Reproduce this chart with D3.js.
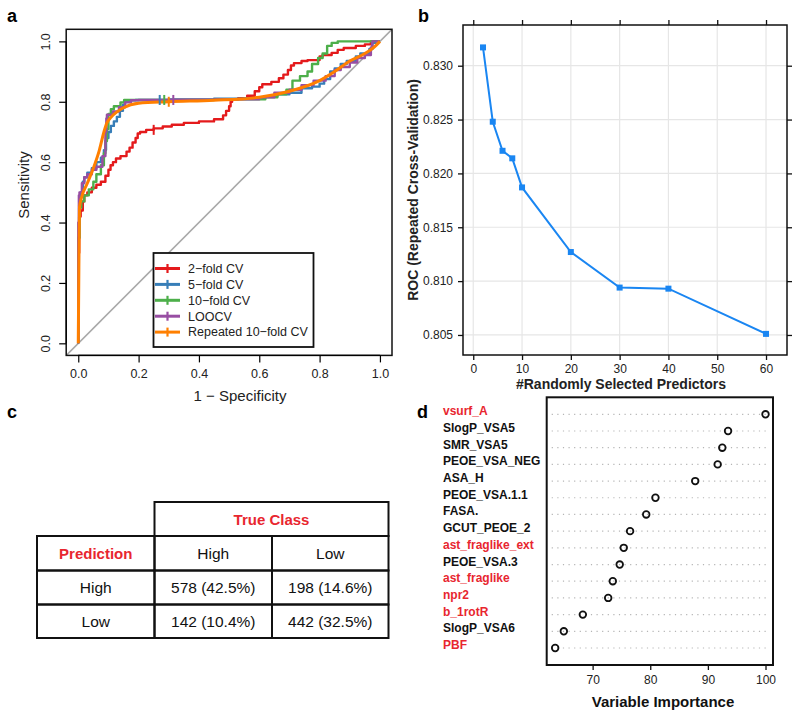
<!DOCTYPE html>
<html>
<head>
<meta charset="utf-8">
<script src="https://cdnjs.cloudflare.com/ajax/libs/d3/7.8.5/d3.min.js"></script>
<style>
  html, body { margin: 0; padding: 0; background: #fff; }
  svg { display: block; font-family: "Liberation Sans", Arial, Helvetica, sans-serif; }
</style>
</head>
<body>
<svg id="chart" width="800" height="718"></svg>
<script>
// ---------------- DATA ----------------
// Panel a: ROC curves (fpr = 1 - specificity, tpr = sensitivity)
const rocNames = ["2\u2212fold CV", "5\u2212fold CV", "10\u2212fold CV", "LOOCV", "Repeated 10\u2212fold CV"];
const rocColors = ["#e41a1c", "#377eb8", "#4daf4a", "#984ea3", "#ff7f00"];
const roc2fold = [[0,0],[0.003,0.30],[0.008,0.42],[0.015,0.44],[0.02,0.47],[0.03,0.49],[0.045,0.50],[0.06,0.515],[0.075,0.525],[0.09,0.535],[0.10,0.555],[0.107,0.575],[0.115,0.59],[0.125,0.60],[0.14,0.612],[0.16,0.62],[0.17,0.635],[0.18,0.648],[0.19,0.665],[0.197,0.68],[0.205,0.695],[0.225,0.70],[0.25,0.707],[0.28,0.712],[0.31,0.718],[0.35,0.724],[0.40,0.73],[0.45,0.735],[0.48,0.742],[0.49,0.755],[0.5,0.77],[0.505,0.785],[0.51,0.80],[0.53,0.808],[0.56,0.812],[0.585,0.82],[0.60,0.835],[0.61,0.848],[0.64,0.858],[0.665,0.866],[0.68,0.878],[0.695,0.89],[0.705,0.905],[0.715,0.92],[0.74,0.928],[0.76,0.935],[0.80,0.938],[0.81,0.95],[0.84,0.955],[0.86,0.962],[0.88,0.972],[0.92,0.978],[0.95,0.985],[0.97,0.99],[1,1]];
const roc5fold = [[0,0],[0.003,0.35],[0.008,0.46],[0.015,0.50],[0.02,0.535],[0.03,0.55],[0.045,0.565],[0.06,0.58],[0.075,0.60],[0.085,0.615],[0.092,0.64],[0.10,0.68],[0.108,0.70],[0.118,0.72],[0.128,0.735],[0.138,0.75],[0.148,0.77],[0.155,0.79],[0.17,0.80],[0.19,0.805],[0.3,0.806],[0.45,0.808],[0.55,0.81],[0.62,0.812],[0.66,0.818],[0.70,0.825],[0.74,0.83],[0.775,0.845],[0.80,0.85],[0.815,0.86],[0.835,0.875],[0.85,0.90],[0.87,0.91],[0.89,0.925],[0.92,0.935],[0.935,0.95],[0.965,0.96],[0.975,0.975],[0.985,0.995],[1,1]];
const roc10fold = [[0,0],[0.004,0.35],[0.01,0.45],[0.02,0.47],[0.035,0.49],[0.05,0.51],[0.06,0.535],[0.075,0.56],[0.085,0.59],[0.09,0.63],[0.095,0.67],[0.10,0.71],[0.108,0.76],[0.118,0.775],[0.14,0.785],[0.152,0.798],[0.165,0.806],[0.3,0.806],[0.45,0.806],[0.55,0.808],[0.62,0.808],[0.66,0.815],[0.69,0.825],[0.71,0.84],[0.735,0.87],[0.76,0.885],[0.775,0.90],[0.795,0.925],[0.81,0.945],[0.825,0.96],[0.84,0.985],[0.86,0.995],[0.885,1.0],[1,1]];
const rocLOOCV = [[0,0],[0.002,0.40],[0.004,0.49],[0.012,0.50],[0.02,0.53],[0.03,0.55],[0.045,0.56],[0.06,0.575],[0.08,0.585],[0.09,0.62],[0.093,0.70],[0.095,0.745],[0.115,0.757],[0.135,0.768],[0.155,0.782],[0.175,0.798],[0.2,0.805],[0.3,0.806],[0.45,0.807],[0.6,0.808],[0.65,0.815],[0.70,0.83],[0.74,0.84],[0.78,0.855],[0.82,0.87],[0.85,0.885],[0.87,0.905],[0.9,0.915],[0.925,0.93],[0.95,0.945],[0.97,0.955],[0.975,0.98],[0.99,1.0],[1,1]];
const rocRepeated = [[0,0],[0.002,0.25],[0.004,0.45],[0.01,0.48],[0.03,0.53],[0.05,0.58],[0.07,0.64],[0.085,0.70],[0.095,0.73],[0.11,0.75],[0.15,0.78],[0.2,0.795],[0.3,0.80],[0.45,0.805],[0.6,0.815],[0.7,0.835],[0.8,0.87],[0.85,0.90],[0.9,0.935],[0.95,0.96],[0.98,0.98],[1,1]];
const rocCensor = [[0.25,0.707],[0.27,0.806],[0.285,0.806],[0.315,0.806],[0.30,0.80]];
const rocTicks = [0, 0.2, 0.4, 0.6, 0.8, 1.0];

// Panel b: ROC vs #randomly selected predictors
const mtry = [2, 4, 6, 8, 10, 20, 30, 40, 60];
const mtryROC = [0.8317, 0.8248, 0.8221, 0.8214, 0.8187, 0.8127, 0.8094, 0.8093, 0.8051];
const mtryXTicks = [0, 10, 20, 30, 40, 50, 60];
const mtryYTicks = [0.805, 0.810, 0.815, 0.820, 0.825, 0.830];

// Panel c: confusion matrix
const trueClasses = ["High", "Low"];
const predClasses = ["High", "Low"];
const confCounts = [[578, 198], [142, 442]];
const confPct = [["42.5%", "14.6%"], ["10.4%", "32.5%"]];

// Panel d: variable importance
const varNames = ["vsurf_A","SlogP_VSA5","SMR_VSA5","PEOE_VSA_NEG","ASA_H","PEOE_VSA.1.1","FASA.","GCUT_PEOE_2","ast_fraglike_ext","PEOE_VSA.3","ast_fraglike","npr2","b_1rotR","SlogP_VSA6","PBF"];
const varImportance = [100, 93.5, 92.5, 91.7, 87.8, 80.9, 79.3, 76.5, 75.4, 74.7, 73.5, 72.7, 68.3, 65.0, 63.5];
const varHighlight = [true,false,false,false,false,false,false,false,true,false,true,true,true,false,true];
const impTicks = [70, 80, 90, 100];

// ---------------- DRAW ----------------
const svg = d3.select("#chart");
svg.append("rect").attr("width", 800).attr("height", 718).attr("fill", "#fff");
const RED = "#e8262f";

function panelLabel(t, x, y) {
  svg.append("text").attr("x", x).attr("y", y).attr("font-size", 18).attr("font-weight", "bold").text(t);
}

// ===== Panel a =====
(function () {
  const x = d3.scaleLinear().domain([-0.04, 1.04]).range([66.2, 392]);
  const y = d3.scaleLinear().domain([-0.04, 1.04]).range([355.4, 29.3]);
  const g = svg.append("g");
  panelLabel("a", 7, 22);
  g.append("clipPath").attr("id", "clipA").append("rect")
    .attr("x", 66.2).attr("y", 29.3).attr("width", 392 - 66.2).attr("height", 355.4 - 29.3);
  // diagonal
  g.append("line").attr("clip-path", "url(#clipA)")
    .attr("x1", x(-0.04)).attr("y1", y(-0.04)).attr("x2", x(1.04)).attr("y2", y(1.04))
    .attr("stroke", "#a8a8a8").attr("stroke-width", 1.6);
  const series = [roc2fold, roc5fold, roc10fold, rocLOOCV, rocRepeated];
  series.forEach((s, i) => {
    const line = d3.line().x(d => x(d[0])).y(d => y(d[1]))
      .curve(i === 4 ? d3.curveMonotoneX : d3.curveStepBefore);
    g.append("path").attr("d", line(s)).attr("fill", "none")
      .attr("stroke", rocColors[i]).attr("stroke-width", i === 4 ? 3 : 2.4)
      .attr("stroke-linejoin", "round");
  });
  rocCensor.forEach((c, i) => {
    g.append("line").attr("x1", x(c[0])).attr("x2", x(c[0]))
      .attr("y1", y(c[1]) - 5).attr("y2", y(c[1]) + 5)
      .attr("stroke", rocColors[i]).attr("stroke-width", 2);
  });
  // box
  g.append("rect").attr("x", 66.2).attr("y", 29.3).attr("width", 392 - 66.2).attr("height", 355.4 - 29.3)
    .attr("fill", "none").attr("stroke", "#111").attr("stroke-width", 1.5);
  // axes
  const ax = g.append("g").attr("transform", "translate(0,355.4)")
    .call(d3.axisBottom(x).tickValues(rocTicks).tickFormat(d3.format(".1f")).tickSize(7).tickPadding(7));
  ax.select(".domain").attr("d", `M${x(0)},0H${x(1)}`).attr("stroke-width", 1.2);
  ax.selectAll(".tick line").attr("stroke-width", 1.2);
  ax.selectAll("text").attr("font-size", 12.5).attr("fill", "#222").attr("font-family", null);
  const ay = g.append("g").attr("transform", "translate(66.2,0)")
    .call(d3.axisLeft(y).tickValues(rocTicks).tickFormat(d3.format(".1f")).tickSize(7).tickPadding(7));
  ay.select(".domain").attr("d", `M0,${y(0)}V${y(1)}`).attr("stroke-width", 1.2);
  ay.selectAll(".tick line").attr("stroke-width", 1.2);
  ay.selectAll("text").attr("font-size", 12.5).attr("fill", "#222").attr("font-family", null)
    .attr("text-anchor", "middle").attr("transform", "rotate(-90)")
    .attr("x", 0).attr("dy", 0).attr("y", -16);
  g.append("text").attr("transform", "translate(29,185) rotate(-90)").attr("text-anchor", "middle")
    .attr("font-size", 15).attr("fill", "#222").text("Sensitivity");
  g.append("text").attr("x", 240).attr("y", 401).attr("text-anchor", "middle")
    .attr("font-size", 15).attr("fill", "#222").text("1 \u2212 Specificity");
  // legend
  const lg = g.append("g");
  lg.append("rect").attr("x", 153.5).attr("y", 253).attr("width", 160).attr("height", 94)
    .attr("fill", "#fff").attr("stroke", "#111").attr("stroke-width", 1.8);
  rocNames.forEach((n, i) => {
    const yy = 268.5 + i * 15.9;
    lg.append("line").attr("x1", 155).attr("x2", 180).attr("y1", yy).attr("y2", yy)
      .attr("stroke", rocColors[i]).attr("stroke-width", 3);
    lg.append("line").attr("x1", 167.5).attr("x2", 167.5).attr("y1", yy - 4.5).attr("y2", yy + 4.5)
      .attr("stroke", rocColors[i]).attr("stroke-width", 2.2);
    lg.append("text").attr("x", 188).attr("y", yy + 4.3).attr("font-size", 12.5).attr("fill", "#222").text(n);
  });
})();

// ===== Panel b =====
(function () {
  const L = 463, R = 787, T = 25, B = 355;
  const x = d3.scaleLinear().domain([-2.1, 64.3]).range([L, R]);
  const y = d3.scaleLinear().domain([0.80314, 0.83378]).range([B, T]);
  const g = svg.append("g");
  panelLabel("b", 418, 22);
  mtryXTicks.forEach(t => g.append("line").attr("x1", x(t)).attr("x2", x(t)).attr("y1", T).attr("y2", B)
    .attr("stroke", "#e6e6e6").attr("stroke-width", 1.2));
  mtryYTicks.forEach(t => g.append("line").attr("y1", y(t)).attr("y2", y(t)).attr("x1", L).attr("x2", R)
    .attr("stroke", "#e6e6e6").attr("stroke-width", 1.2));
  const pts = mtry.map((m, i) => [m, mtryROC[i]]);
  g.append("path").attr("d", d3.line().x(d => x(d[0])).y(d => y(d[1]))(pts))
    .attr("fill", "none").attr("stroke", "#1a86f2").attr("stroke-width", 2);
  g.selectAll(".sq").data(pts).enter().append("rect")
    .attr("x", d => x(d[0]) - 3).attr("y", d => y(d[1]) - 3).attr("width", 6).attr("height", 6)
    .attr("fill", "#1a86f2");
  g.append("rect").attr("x", L).attr("y", T).attr("width", R - L).attr("height", B - T)
    .attr("fill", "none").attr("stroke", "#111").attr("stroke-width", 1.5);
  const ab = g.append("g").attr("transform", `translate(0,${B})`)
    .call(d3.axisBottom(x).tickValues(mtryXTicks).tickSize(5).tickPadding(4));
  const at = g.append("g").attr("transform", `translate(0,${T})`)
    .call(d3.axisTop(x).tickValues(mtryXTicks).tickSize(5).tickFormat(""));
  const al = g.append("g").attr("transform", `translate(${L},0)`)
    .call(d3.axisLeft(y).tickValues(mtryYTicks).tickFormat(d3.format(".3f")).tickSize(5).tickPadding(5));
  const ar = g.append("g").attr("transform", `translate(${R},0)`)
    .call(d3.axisRight(y).tickValues(mtryYTicks).tickSize(5).tickFormat(""));
  [ab, at, al, ar].forEach(a => {
    a.select(".domain").remove();
    a.selectAll(".tick line").attr("stroke", "#111").attr("stroke-width", 1.3);
    a.selectAll("text").attr("font-size", 12).attr("fill", "#222").attr("font-family", null);
  });
  g.append("text").attr("transform", "translate(418,190) rotate(-90)").attr("text-anchor", "middle")
    .attr("font-size", 14).attr("font-weight", "bold").attr("fill", "#222").text("ROC (Repeated Cross-Validation)");
  g.append("text").attr("x", 621).attr("y", 389).attr("text-anchor", "middle")
    .attr("font-size", 14).attr("font-weight", "bold").attr("fill", "#222").text("#Randomly Selected Predictors");
})();

// ===== Panel c =====
(function () {
  const g = svg.append("g");
  panelLabel("c", 7, 418);
  const xs = [37, 154.5, 272, 388.5];
  const ys = [502, 536, 570.5, 604.5, 638];
  const cell = (x0, x1, y0, y1) => g.append("rect").attr("x", x0).attr("y", y0)
    .attr("width", x1 - x0).attr("height", y1 - y0).attr("fill", "none")
    .attr("stroke", "#111").attr("stroke-width", 2);
  cell(xs[1], xs[3], ys[0], ys[1]);
  for (let r = 1; r < 4; r++) for (let c = 0; c < 3; c++) cell(xs[c], xs[c + 1], ys[r], ys[r + 1]);
  const txt = (t, cx, cy, opts) => {
    const e = g.append("text").attr("x", cx).attr("y", cy + 5.5).attr("text-anchor", "middle")
      .attr("font-size", 15.5).attr("fill", "#111").text(t);
    if (opts) { e.attr("font-weight", "bold").attr("fill", RED).attr("font-size", 15); }
  };
  txt("True Class", (xs[1] + xs[3]) / 2, (ys[0] + ys[1]) / 2, true);
  txt("Prediction", (xs[0] + xs[1]) / 2, (ys[1] + ys[2]) / 2, true);
  trueClasses.forEach((t, j) => txt(t, (xs[j + 1] + xs[j + 2]) / 2, (ys[1] + ys[2]) / 2));
  predClasses.forEach((p, i) => {
    const cy = (ys[i + 2] + ys[i + 3]) / 2;
    txt(p, (xs[0] + xs[1]) / 2, cy);
    trueClasses.forEach((t, j) => txt(`${confCounts[i][j]} (${confPct[i][j]})`, (xs[j + 1] + xs[j + 2]) / 2, cy));
  });
})();

// ===== Panel d =====
(function () {
  const L = 546.7, R = 773, T = 397.3, B = 665;
  const x = d3.scaleLinear().domain([62.03, 101.3]).range([L, R]);
  const y = d3.scalePoint().domain(varNames).range([T, B]).padding(1.02);
  const g = svg.append("g");
  panelLabel("d", 417, 418);
  varNames.forEach((n, i) => {
    g.append("line").attr("x1", L + 5).attr("x2", R - 3).attr("y1", y(n)).attr("y2", y(n))
      .attr("stroke", "#b5b5b5").attr("stroke-width", 1.2).attr("stroke-dasharray", "1.2,4.4");
    g.append("text").attr("x", 443).attr("y", y(n) + 1).attr("font-size", 12).attr("font-weight", "bold")
      .attr("fill", varHighlight[i] ? RED : "#111").text(n);
  });
  g.selectAll(".pt").data(varNames).enter().append("circle")
    .attr("cx", (d, i) => x(varImportance[i])).attr("cy", d => y(d)).attr("r", 3.3)
    .attr("fill", "none").attr("stroke", "#111").attr("stroke-width", 1.8);
  g.append("rect").attr("x", L).attr("y", T).attr("width", R - L).attr("height", B - T)
    .attr("fill", "none").attr("stroke", "#111").attr("stroke-width", 2);
  const ab = g.append("g").attr("transform", `translate(0,${B})`)
    .call(d3.axisBottom(x).tickValues(impTicks).tickSize(5).tickPadding(5));
  ab.select(".domain").remove();
  ab.selectAll(".tick line").attr("stroke", "#111").attr("stroke-width", 1.3);
  ab.selectAll("text").attr("font-size", 12).attr("fill", "#222").attr("font-family", null);
  g.append("text").attr("x", 663).attr("y", 707).attr("text-anchor", "middle")
    .attr("font-size", 15).attr("font-weight", "bold").attr("fill", "#111").text("Variable Importance");
})();
</script>
</body>
</html>
